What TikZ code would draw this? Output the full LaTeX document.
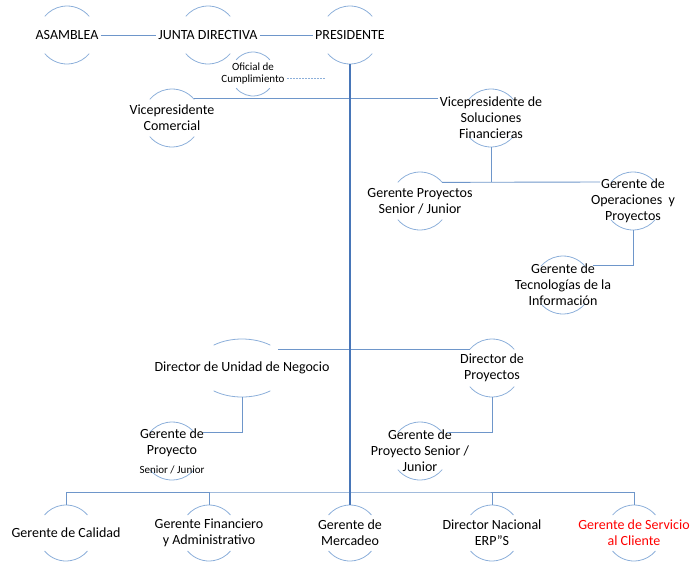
\documentclass[tikz,border=0pt]{standalone}
\usepackage{fontspec}
\setmainfont{Carlito}
\usetikzlibrary{shapes.geometric}
\definecolor{arcc}{RGB}{140,175,218}
\definecolor{linec}{RGB}{110,150,202}
\definecolor{presc}{RGB}{72,118,184}
\definecolor{redt}{RGB}{255,0,0}
\newcommand\orgunit[6][]{%
  \node[ring, minimum size=2*#5pt] (#2) at (#3,#4) {};
  \draw[ringline] (#2.40) arc[start angle=40,end angle=140,radius=#5pt];
  \draw[ringline] (#2.220) arc[start angle=220,end angle=320,radius=#5pt];
  \node[lbl,#1] (#2t) at (#2.center) {#6};
}
\begin{document}
\begin{tikzpicture}[x=1pt,y=-1pt,
  ring/.style={circle, inner sep=0pt, outer sep=0pt},
  ringline/.style={draw=arcc, line width=0.8pt},
  lbl/.style={font=\fontsize{14}{16}\selectfont, align=center, inner sep=2pt, text=black},
  conn/.style={draw=linec, line width=0.9pt},
  presline/.style={draw=presc, line width=1.4pt},
  dashconn/.style={draw=arcc, line width=0.8pt, dash pattern=on 2pt off 1pt}]
\useasboundingbox (0,0) rectangle (691,563);

\orgunit{asam}{67}{35}{29}{ASAMBLEA}
\orgunit{junta}{208}{35}{29}{JUNTA DIRECTIVA}
\orgunit{pres}{350}{35}{29}{PRESIDENTE}
\orgunit[font=\fontsize{11}{12}\selectfont]{ofic}{253}{74}{22}{Oficial de\\Cumplimiento}
\orgunit{vpc}{172}{118}{29}{Vicepresidente\\Comercial}
\orgunit{vpsf}{491}{118}{29}{Vicepresidente de\\Soluciones\\Financieras}
\orgunit{gps}{420}{201}{29}{Gerente Proyectos\\Senior / Junior}
\orgunit{gop}{633}{201}{29}{Gerente de\\Operaciones~ y\\Proyectos}
\orgunit{gti}{563}{285}{29}{Gerente de\\Tecnologías de la\\Información}

\node[ellipse, minimum width=92pt, minimum height=58pt, inner sep=0pt, outer sep=0pt] (dun) at (242,368) {};
\draw[ringline] (dun.center) ++(52:46pt and 29pt) arc[start angle=52,end angle=128,x radius=46pt,y radius=29pt];
\draw[ringline] (dun.center) ++(232:46pt and 29pt) arc[start angle=232,end angle=308,x radius=46pt,y radius=29pt];
\node[lbl] (dunt) at (dun.center) {Director de Unidad de Negocio};

\orgunit{dpr}{492}{368}{29}{Director de\\Proyectos}
\orgunit{gpa}{172}{451}{29}{Gerente de\\Proyecto\\[3pt]{\fontsize{11}{12}\selectfont Senior / Junior}}
\orgunit{gpb}{420}{451}{29}{Gerente de\\Proyecto Senior /\\Junior}

\orgunit{ga}{66}{533}{28}{Gerente de Calidad}
\orgunit{gb}{209}{533}{28}{Gerente Financiero\\y Administrativo}
\orgunit{gc}{350}{533}{28}{Gerente de\\Mercadeo}
\orgunit{gd}{492}{533}{28}{Director Nacional\\ERP”S}
\orgunit[text=redt]{ge}{634}{533}{28}{Gerente de Servicio\\al Cliente}

% connectors
\draw[conn] (asamt) -- (juntat);
\draw[conn] (juntat) -- (prest);
\coordinate (ofend) at (325,78);
\draw[dashconn] (ofict.east |- ofend) -- (ofend);
\draw[conn] (vpc.42) -- (vpc.42 -| vpsft.west);
\draw[conn] (vpsf.south) -- (vpsf.south |- gps.40);
\coordinate (gopin) at (600,182);
\draw[conn] (gps.40) -- (gopin);
\coordinate (gtiin) at (593,265);
\draw[conn] (gop.south) |- (gtiin);
\draw[conn] (dun.27) -- (dun.27 -| dpr.139);
\coordinate (gpain) at (203,432);
\draw[conn] (dun.south) |- (gpain);
\coordinate (gpbin) at (447,432);
\draw[conn] (dpr.south) |- (gpbin);
\coordinate (bus) at (350,492);
\draw[conn] (ga.north) |- (bus) -| (ge.north);
\draw[conn] (gb.north) -- (gb.north |- bus);
\draw[conn] (gd.north) -- (gd.north |- bus);
\draw[presline] (pres.south) -- (gc.north);
\end{tikzpicture}
\end{document}
